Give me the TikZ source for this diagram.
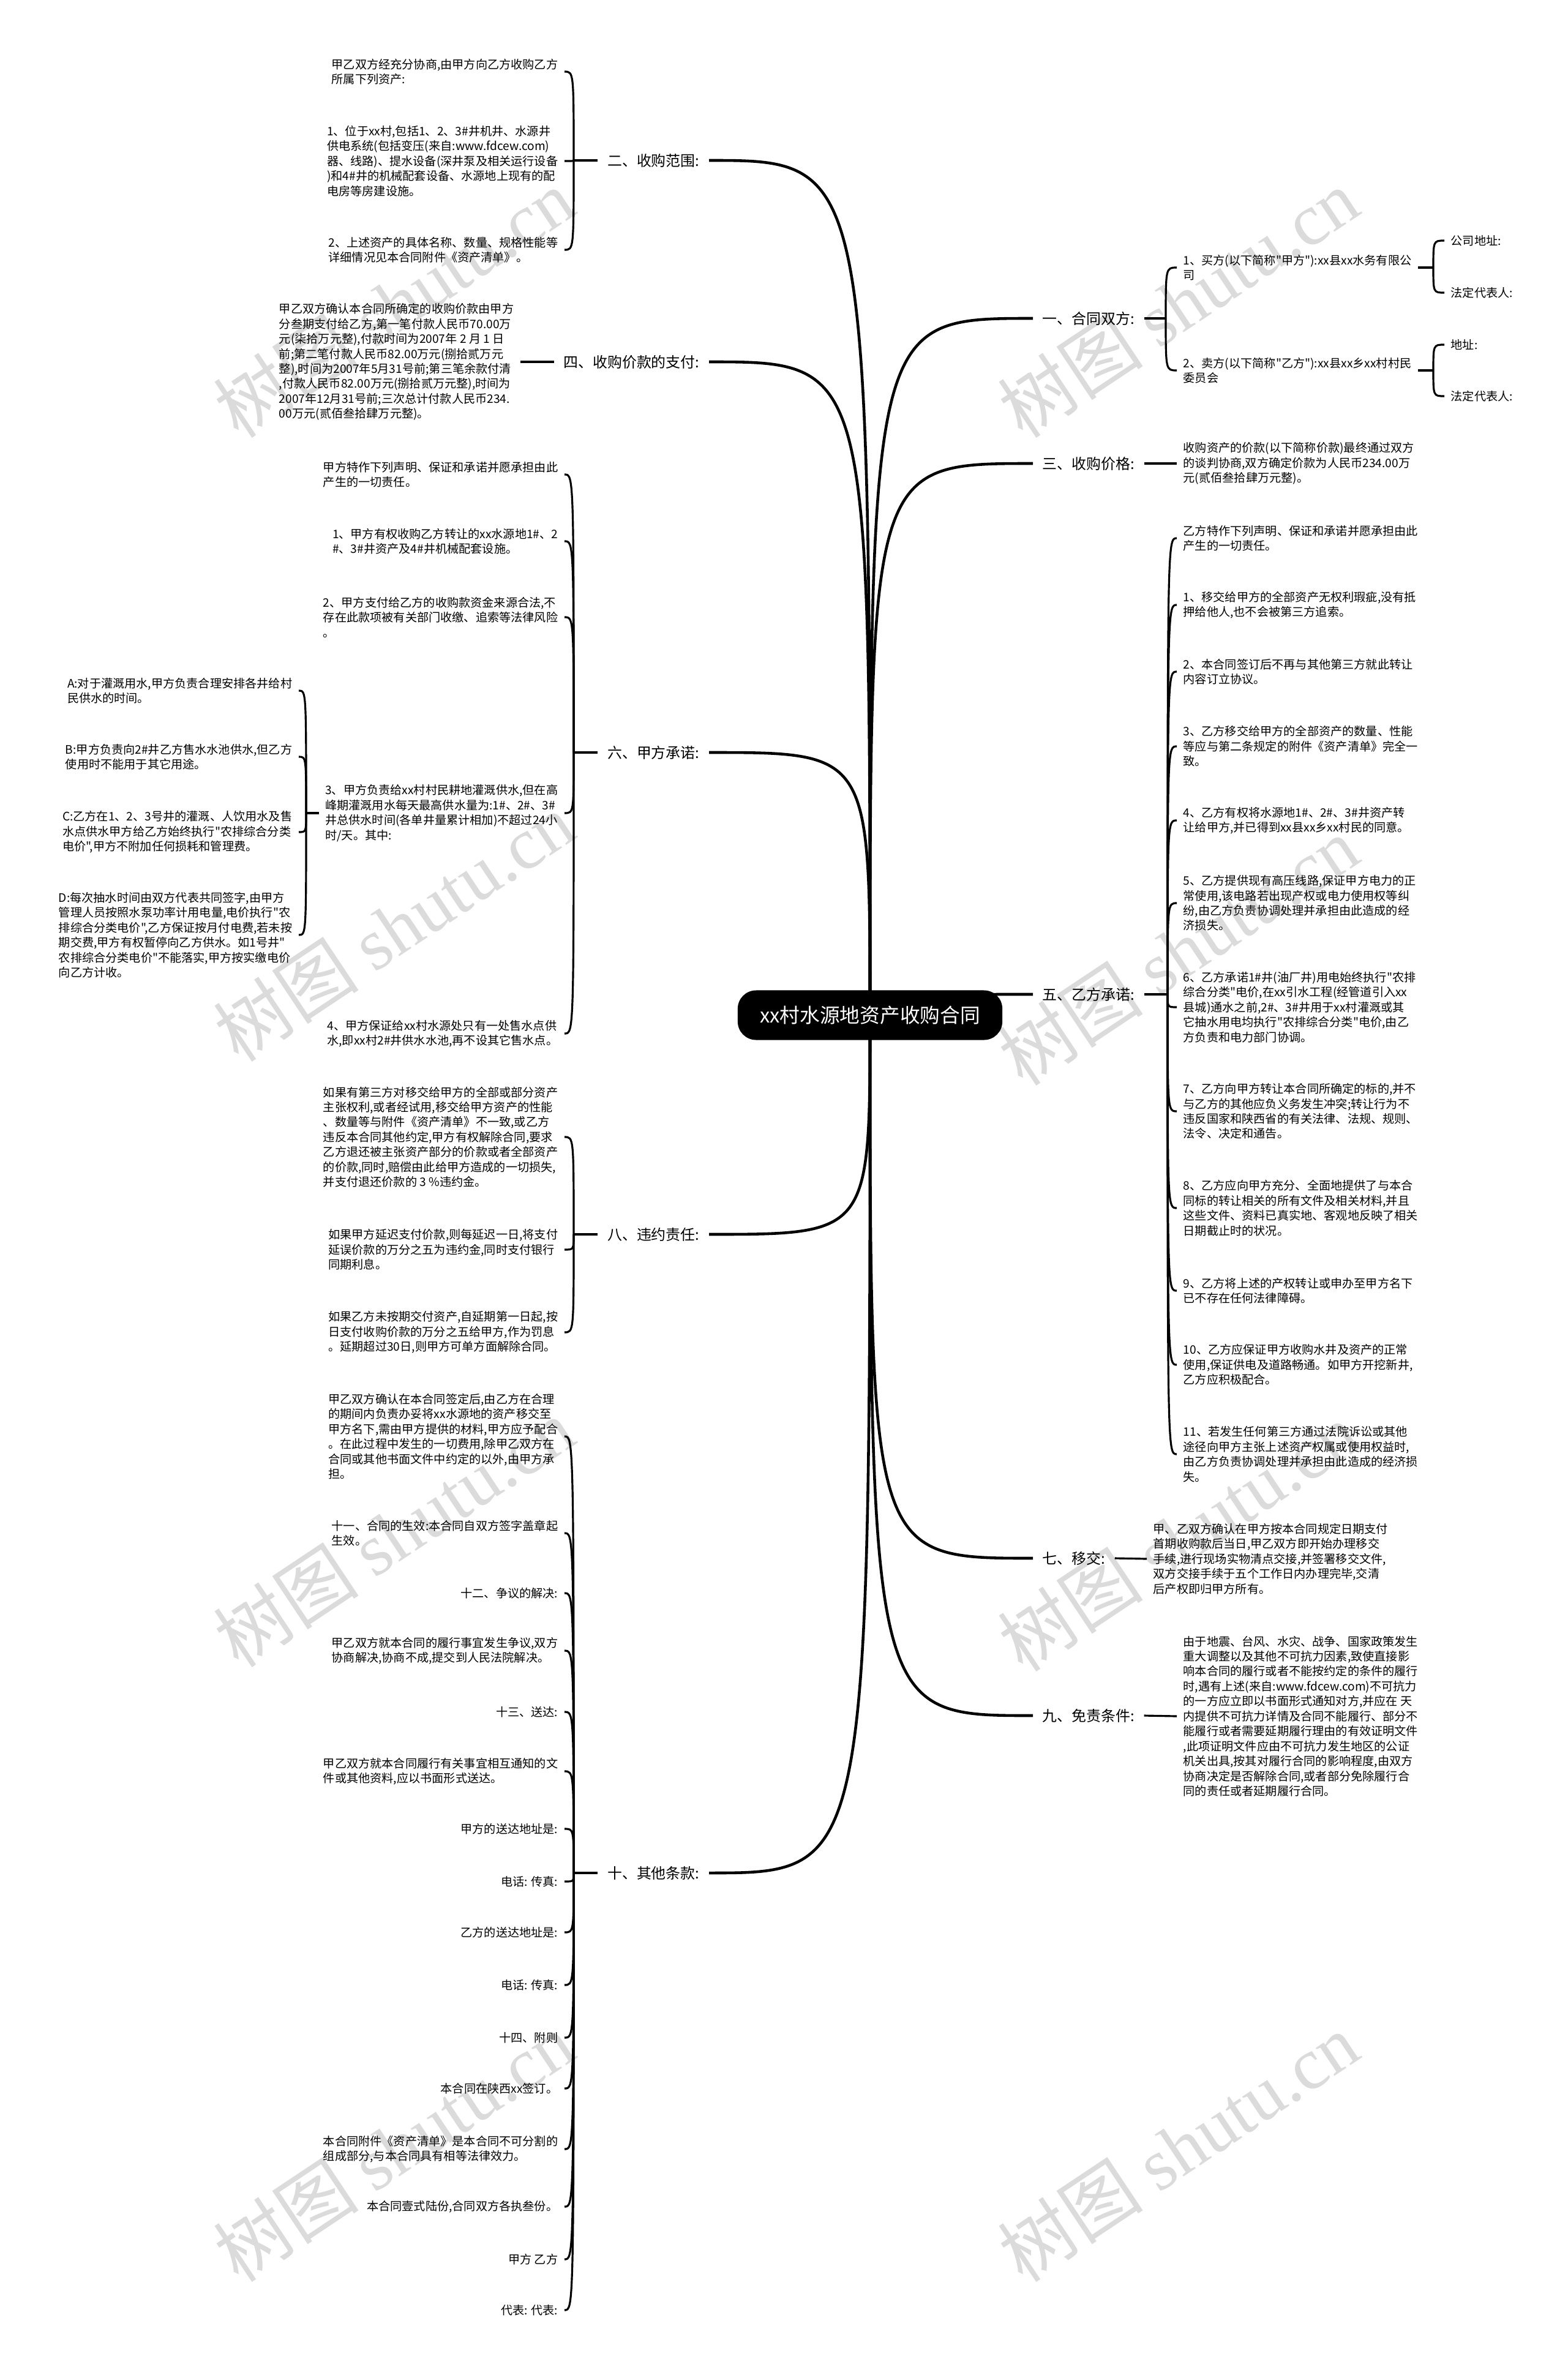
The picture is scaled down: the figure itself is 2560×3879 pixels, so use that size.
\documentclass[tikz,border=0pt]{standalone}
\usepackage{fontspec}
\setmainfont{Noto Sans CJK SC}[Ligatures=TeXOff]
\newfontfamily\wmfont{Liberation Serif}
\usetikzlibrary{backgrounds}
\newcommand\leaffont{\fontsize{5.45pt}{6.95pt}\selectfont}
\newcommand\topicfont{\fontsize{6.8pt}{8pt}\selectfont}
\newcommand\rootfont{\fontsize{9.3pt}{11pt}\selectfont}
\newcommand\wmtext{\fontsize{34pt}{40pt}\selectfont}
\tikzset{
  rootbox/.style={fill=black, text=white, rounded corners=0.3cm, minimum width=4.32cm, minimum height=0.81cm, font=\rootfont},
  topicL/.style={anchor=east, font=\topicfont, inner xsep=0.15cm},
  topicR/.style={anchor=west, font=\topicfont, inner xsep=0.15cm},
  leafL/.style={anchor=east, align=left, font=\leaffont, inner xsep=0.1cm, inner ysep=0pt},
  leafR/.style={anchor=west, align=left, font=\leaffont, inner xsep=0.1cm, inner ysep=0pt},
  trunk/.style={line width=1.3pt, to path={.. controls (\tikztostart |- \tikztotarget) .. (\tikztotarget)}},
  twig/.style={line width=0.9pt, to path={.. controls (\tikztostart |- \tikztotarget) .. (\tikztotarget)}},
  wmark/.style={text=black!14, font=\wmtext, rotate=33.7}
}
\begin{document}
\begin{tikzpicture}[x=0.01cm, y=-0.01cm]
\useasboundingbox (0,0) rectangle (2560,3879);
\node[rootbox] (root) at (1421,1658) {xx村水源地资产收购合同};
\node[topicL] (b2) at (1158,262) {二、收购范围:};
\node[topicL] (b4) at (1158,591) {四、收购价款的支付:};
\node[topicL] (b6) at (1158,1229) {六、甲方承诺:};
\node[topicL] (b8) at (1158,2016) {八、违约责任:};
\node[topicL] (b10) at (1158,3059) {十、其他条款:};
\node[topicR] (b1) at (1687,520) {一、合同双方:};
\node[topicR] (b3) at (1687,757) {三、收购价格:};
\node[topicR] (b5) at (1687,1624) {五、乙方承诺:};
\node[topicR] (b7) at (1687,2545) {七、移交:};
\node[topicR] (b9) at (1687,2802) {九、免责条件:};
\node[leafL] (b2a) at (922,117) {甲乙双方经充分协商,由甲方向乙方收购乙方\\所属下列资产:};
\node[leafL] (b2b) at (922,263) {1、位于xx村,包括1、2、3\#井机井、水源井\\供电系统(包括变压(来自:www.fdcew.com)\\器、线路)、提水设备(深井泵及相关运行设备\\)和4\#井的机械配套设备、水源地上现有的配\\电房等房建设施。};
\node[leafL] (b2c) at (922,408) {2、上述资产的具体名称、数量、规格性能等\\详细情况见本合同附件《资产清单》。};
\node[leafL] (b4a) at (850,591) {甲乙双方确认本合同所确定的收购价款由甲方\\分叁期支付给乙方,第一笔付款人民币70.00万\\元(柒拾万元整),付款时间为2007年 2 月 1 日\\前;第二笔付款人民币82.00万元(捌拾贰万元\\整),时间为2007年5月31号前;第三笔余款付清\\,付款人民币82.00万元(捌拾贰万元整),时间为\\2007年12月31号前;三次总计付款人民币234.\\00万元(贰佰叁拾肆万元整)。};
\node[leafL] (b6a) at (922,775) {甲方特作下列声明、保证和承诺并愿承担由此\\产生的一切责任。};
\node[leafL] (b6b) at (922,884) {1、甲方有权收购乙方转让的xx水源地1\#、2\\\#、3\#井资产及4\#井机械配套设施。};
\node[leafL] (b6c) at (922,1008) {2、甲方支付给乙方的收购款资金来源合法,不\\存在此款项被有关部门收缴、追索等法律风险\\。};
\node[leafL] (b6d) at (922,1328) {3、甲方负责给xx村村民耕地灌溉供水,但在高\\峰期灌溉用水每天最高供水量为:1\#、2\#、3\#\\井总供水时间(各单井量累计相加)不超过24小\\时/天。其中:};
\node[leafL] (b6e) at (922,1688) {4、甲方保证给xx村水源处只有一处售水点供\\水,即xx村2\#井供水水池,再不设其它售水点。};
\node[leafL] (b6A) at (488,1128) {A:对于灌溉用水,甲方负责合理安排各井给村\\民供水的时间。};
\node[leafL] (b6B) at (488,1236) {B:甲方负责向2\#井乙方售水水池供水,但乙方\\使用时不能用于其它用途。};
\node[leafL] (b6C) at (488,1359) {C:乙方在1、2、3号井的灌溉、人饮用水及售\\水点供水甲方给乙方始终执行"农排综合分类\\电价",甲方不附加任何损耗和管理费。};
\node[leafL] (b6D) at (488,1527) {D:每次抽水时间由双方代表共同签字,由甲方\\管理人员按照水泵功率计用电量,电价执行"农\\排综合分类电价",乙方保证按月付电费,若未按\\期交费,甲方有权暂停向乙方供水。如1号井"\\农排综合分类电价"不能落实,甲方按实缴电价\\向乙方计收。};
\node[leafL] (b8a) at (922,1857) {如果有第三方对移交给甲方的全部或部分资产\\主张权利,或者经试用,移交给甲方资产的性能\\、数量等与附件《资产清单》不一致,或乙方\\违反本合同其他约定,甲方有权解除合同,要求\\乙方退还被主张资产部分的价款或者全部资产\\的价款,同时,赔偿由此给甲方造成的一切损失,\\并支付退还价款的 3 \%违约金。};
\node[leafL] (b8b) at (922,2041) {如果甲方延迟支付价款,则每延迟一日,将支付\\延误价款的万分之五为违约金,同时支付银行\\同期利息。};
\node[leafL] (b8c) at (922,2176) {如果乙方未按期交付资产,自延期第一日起,按\\日支付收购价款的万分之五给甲方,作为罚息\\。延期超过30日,则甲方可单方面解除合同。};
\node[leafL] (b10a) at (922,2346) {甲乙双方确认在本合同签定后,由乙方在合理\\的期间内负责办妥将xx水源地的资产移交至\\甲方名下,需由甲方提供的材料,甲方应予配合\\。在此过程中发生的一切费用,除甲乙双方在\\合同或其他书面文件中约定的以外,由甲方承\\担。};
\node[leafL] (b10b) at (922,2504) {十一、合同的生效:本合同自双方签字盖章起\\生效。};
\node[leafL] (b10c) at (922,2602) {十二、争议的解决:};
\node[leafL] (b10d) at (922,2696) {甲乙双方就本合同的履行事宜发生争议,双方\\协商解决,协商不成,提交到人民法院解决。};
\node[leafL] (b10e) at (922,2796) {十三、送达:};
\node[leafL] (b10f) at (922,2893) {甲乙双方就本合同履行有关事宜相互通知的文\\件或其他资料,应以书面形式送达。};
\node[leafL] (b10g) at (922,2987) {甲方的送达地址是:};
\node[leafL] (b10h) at (922,3073) {电话: 传真:};
\node[leafL] (b10i) at (922,3156) {乙方的送达地址是:};
\node[leafL] (b10j) at (922,3242) {电话: 传真:};
\node[leafL] (b10k) at (922,3328) {十四、附则};
\node[leafL] (b10l) at (922,3411) {本合同在陕西xx签订。};
\node[leafL] (b10m) at (922,3510) {本合同附件《资产清单》是本合同不可分割的\\组成部分,与本合同具有相等法律效力。};
\node[leafL] (b10n) at (922,3604) {本合同壹式陆份,合同双方各执叁份。};
\node[leafL] (b10o) at (922,3690) {甲方 乙方};
\node[leafL] (b10p) at (922,3773) {代表: 代表:};
\node[leafR] (b1a) at (1922,437) {1、买方(以下简称"甲方"):xx县xx水务有限公\\司};
\node[leafR] (b1b) at (1922,605) {2、卖方(以下简称"乙方"):xx县xx乡xx村村民\\委员会};
\node[leafR] (b1a1) at (2359,393) {公司地址:};
\node[leafR] (b1a2) at (2359,478) {法定代表人:};
\node[leafR] (b1b1) at (2359,563) {地址:};
\node[leafR] (b1b2) at (2359,647) {法定代表人:};
\node[leafR] (b3a) at (1922,757) {收购资产的价款(以下简称价款)最终通过双方\\的谈判协商,双方确定价款为人民币234.00万\\元(贰佰叁拾肆万元整)。};
\node[leafR] (b5a) at (1922,879) {乙方特作下列声明、保证和承诺并愿承担由此\\产生的一切责任。};
\node[leafR] (b5b) at (1922,988) {1、移交给甲方的全部资产无权利瑕疵,没有抵\\押给他人,也不会被第三方追索。};
\node[leafR] (b5c) at (1922,1097) {2、本合同签订后不再与其他第三方就此转让\\内容订立协议。};
\node[leafR] (b5d) at (1922,1219) {3、乙方移交给甲方的全部资产的数量、性能\\等应与第二条规定的附件《资产清单》完全一\\致。};
\node[leafR] (b5e) at (1922,1340) {4、乙方有权将水源地1\#、2\#、3\#井资产转\\让给甲方,并已得到xx县xx乡xx村民的同意。};
\node[leafR] (b5f) at (1922,1475) {5、乙方提供现有高压线路,保证甲方电力的正\\常使用,该电路若出现产权或电力使用权等纠\\纷,由乙方负责协调处理并承担由此造成的经\\济损失。};
\node[leafR] (b5g) at (1922,1645) {6、乙方承诺1\#井(油厂井)用电始终执行"农排\\综合分类"电价,在xx引水工程(经管道引入xx\\县城)通水之前,2\#、3\#井用于xx村灌溉或其\\它抽水用电均执行"农排综合分类"电价,由乙\\方负责和电力部门协调。};
\node[leafR] (b5h) at (1922,1815) {7、乙方向甲方转让本合同所确定的标的,并不\\与乙方的其他应负义务发生冲突;转让行为不\\违反国家和陕西省的有关法律、法规、规则、\\法令、决定和通告。};
\node[leafR] (b5i) at (1922,1973) {8、乙方应向甲方充分、全面地提供了与本合\\同标的转让相关的所有文件及相关材料,并且\\这些文件、资料已真实地、客观地反映了相关\\日期截止时的状况。};
\node[leafR] (b5j) at (1922,2108) {9、乙方将上述的产权转让或申办至甲方名下\\已不存在任何法律障碍。};
\node[leafR] (b5k) at (1922,2229) {10、乙方应保证甲方收购水井及资产的正常\\使用,保证供电及道路畅通。如甲方开挖新井,\\乙方应积极配合。};
\node[leafR] (b5l) at (1922,2375) {11、若发生任何第三方通过法院诉讼或其他\\途径向甲方主张上述资产权属或使用权益时,\\由乙方负责协调处理并承担由此造成的经济损\\失。};
\node[leafR] (b7a) at (1873,2546) {甲、乙双方确认在甲方按本合同规定日期支付\\首期收购款后当日,甲乙双方即开始办理移交\\手续,进行现场实物清点交接,并签署移交文件,\\双方交接手续于五个工作日内办理完毕,交清\\后产权即归甲方所有。};
\node[leafR] (b9a) at (1922,2803) {由于地震、台风、水灾、战争、国家政策发生\\重大调整以及其他不可抗力因素,致使直接影\\响本合同的履行或者不能按约定的条件的履行\\时,遇有上述(来自:www.fdcew.com)不可抗力\\的一方应立即以书面形式通知对方,并应在 天\\内提供不可抗力详情及合同不能履行、部分不\\能履行或者需要延期履行理由的有效证明文件\\,此项证明文件应由不可抗力发生地区的公证\\机关出具,按其对履行合同的影响程度,由双方\\协商决定是否解除合同,或者部分免除履行合\\同的责任或者延期履行合同。};
\coordinate (k2) at (937,262);
\coordinate (k6) at (937,1229);
\coordinate (k6d) at (500,1328);
\coordinate (k8) at (937,2016);
\coordinate (k10) at (937,3059);
\coordinate (k1) at (1904,520);
\coordinate (k1a) at (2341,437);
\coordinate (k1b) at (2341,605);
\coordinate (k5) at (1907,1624);
\begin{pgfonlayer}{background}
\fill[white] (0,0) rectangle (2560,3879);
\node[wmark] (w1) at (643,495) {树图 {\wmfont shutu.cn}};
\node[wmark] (w2) at (1924,495) {树图 {\wmfont shutu.cn}};
\node[wmark] (w3) at (643,1514) {树图 {\wmfont shutu.cn}};
\node[wmark] (w4) at (1924,1553) {树图 {\wmfont shutu.cn}};
\node[wmark] (w5) at (643,2503) {树图 {\wmfont shutu.cn}};
\node[wmark] (w6) at (1924,2510) {树图 {\wmfont shutu.cn}};
\node[wmark] (w7) at (643,3507) {树图 {\wmfont shutu.cn}};
\node[wmark] (w8) at (1924,3507) {树图 {\wmfont shutu.cn}};
\draw[trunk] (root.center) to (b2.east);
\draw[trunk] (root.center) to (b4.east);
\draw[trunk] (root.center) to (b6.east);
\draw[trunk] (root.center) to (b8.east);
\draw[trunk] (root.center) to (b10.east);
\draw[trunk] (root.center) to (b1.west);
\draw[trunk] (root.center) to (b3.west);
\draw[trunk] (root.center) to (b5.west);
\draw[trunk] (root.center) to (b7.west);
\draw[trunk] (root.center) to (b9.west);
\draw[twig] (b2.west) -- (k2);
\draw[twig] (k2) to (b2a.east);
\draw[twig] (k2) to (b2b.east);
\draw[twig] (k2) to (b2c.east);
\draw[twig] (b4.west) -- (b4a.east);
\draw[twig] (b6.west) -- (k6);
\draw[twig] (k6) to (b6a.east);
\draw[twig] (k6) to (b6b.east);
\draw[twig] (k6) to (b6c.east);
\draw[twig] (k6) to (b6d.east);
\draw[twig] (k6) to (b6e.east);
\draw[twig] (b6d.west) -- (k6d);
\draw[twig] (k6d) to (b6A.east);
\draw[twig] (k6d) to (b6B.east);
\draw[twig] (k6d) to (b6C.east);
\draw[twig] (k6d) to (b6D.east);
\draw[twig] (b8.west) -- (k8);
\draw[twig] (k8) to (b8a.east);
\draw[twig] (k8) to (b8b.east);
\draw[twig] (k8) to (b8c.east);
\draw[twig] (b10.west) -- (k10);
\draw[twig] (k10) to (b10a.east);
\draw[twig] (k10) to (b10b.east);
\draw[twig] (k10) to (b10c.east);
\draw[twig] (k10) to (b10d.east);
\draw[twig] (k10) to (b10e.east);
\draw[twig] (k10) to (b10f.east);
\draw[twig] (k10) to (b10g.east);
\draw[twig] (k10) to (b10h.east);
\draw[twig] (k10) to (b10i.east);
\draw[twig] (k10) to (b10j.east);
\draw[twig] (k10) to (b10k.east);
\draw[twig] (k10) to (b10l.east);
\draw[twig] (k10) to (b10m.east);
\draw[twig] (k10) to (b10n.east);
\draw[twig] (k10) to (b10o.east);
\draw[twig] (k10) to (b10p.east);
\draw[twig] (b1.east) -- (k1);
\draw[twig] (k1) to (b1a.west);
\draw[twig] (k1) to (b1b.west);
\draw[twig] (b1a.east) -- (k1a);
\draw[twig] (k1a) to (b1a1.west);
\draw[twig] (k1a) to (b1a2.west);
\draw[twig] (b1b.east) -- (k1b);
\draw[twig] (k1b) to (b1b1.west);
\draw[twig] (k1b) to (b1b2.west);
\draw[twig] (b3.east) -- (b3a.west);
\draw[twig] (b5.east) -- (k5);
\draw[twig] (k5) to (b5a.west);
\draw[twig] (k5) to (b5b.west);
\draw[twig] (k5) to (b5c.west);
\draw[twig] (k5) to (b5d.west);
\draw[twig] (k5) to (b5e.west);
\draw[twig] (k5) to (b5f.west);
\draw[twig] (k5) to (b5g.west);
\draw[twig] (k5) to (b5h.west);
\draw[twig] (k5) to (b5i.west);
\draw[twig] (k5) to (b5j.west);
\draw[twig] (k5) to (b5k.west);
\draw[twig] (k5) to (b5l.west);
\draw[twig] (b7.east) -- (b7a.west);
\draw[twig] (b9.east) -- (b9a.west);
\end{pgfonlayer}
\end{tikzpicture}
\end{document}
